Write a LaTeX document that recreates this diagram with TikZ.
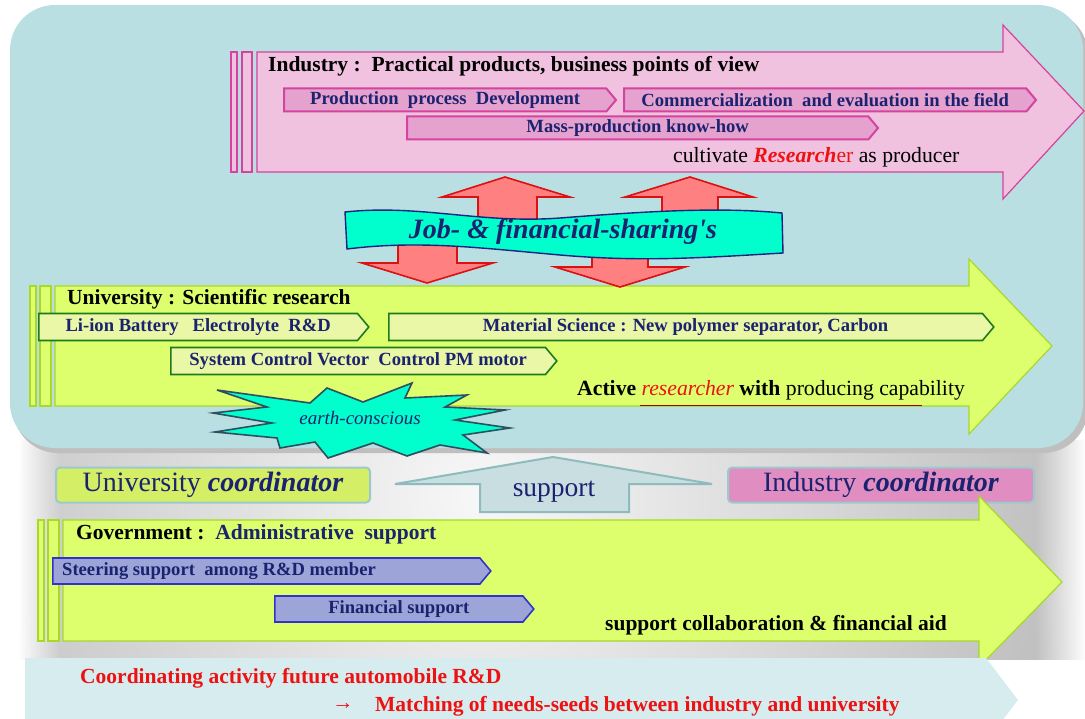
\documentclass[tikz,border=0pt]{standalone}
\usepackage{fontspec}
\setmainfont{Liberation Serif}
\usetikzlibrary{positioning,shapes.symbols,fadings}

\definecolor{topbg}{HTML}{B9DFE2}
\definecolor{pinkfill}{HTML}{F0C2E0}
\definecolor{pinkline}{HTML}{D4439F}
\definecolor{pinksub}{HTML}{E6A2CE}
\definecolor{navytext}{HTML}{1B2270}
\definecolor{yellowfill}{HTML}{DDFF6E}
\definecolor{yellowline}{HTML}{A8D82A}
\definecolor{unisubfill}{HTML}{E9F7A6}
\definecolor{unisubline}{HTML}{1D7A1D}
\definecolor{aqua}{HTML}{00FFCC}
\definecolor{bannerline}{HTML}{1A237E}
\definecolor{redfill}{HTML}{FF8080}
\definecolor{redline}{HTML}{DD1111}
\definecolor{burstline}{HTML}{2F4F5F}
\definecolor{unicoord}{HTML}{D4EE66}
\definecolor{indcoord}{HTML}{E08EC2}
\definecolor{coordline}{HTML}{9CC9CC}
\definecolor{supportfill}{HTML}{C8DEE0}
\definecolor{supportline}{HTML}{8DBBBE}
\definecolor{govsubfill}{HTML}{9DA5D8}
\definecolor{govsubline}{HTML}{3333CC}
\definecolor{bottomfill}{HTML}{D6ECEE}
\definecolor{redtext}{HTML}{EE1111}

\begin{document}
\begin{tikzpicture}[x=1pt,y=-1pt,
  style={line join=miter},
  subarrow/.style={signal, signal to=east, signal pointer angle=100, inner sep=0pt,
    font=\fontsize{18.6}{20}\selectfont\bfseries, text=navytext},
  indsub/.style={subarrow, draw=pinkline, line width=2pt, fill=pinksub, minimum height=23pt},
  unisub/.style={subarrow, draw=unisubline, line width=1.6pt, fill=unisubfill, minimum height=27pt},
  govsub/.style={subarrow, draw=govsubline, line width=1.6pt, fill=govsubfill, minimum height=26pt},
  coord/.style={draw=coordline, line width=2pt, rounded corners=4pt, minimum height=35pt,
    inner sep=0pt, font=\fontsize{28}{30}\selectfont, text=navytext},
  sharearrow/.style={fill=redfill, draw=redline, line width=1.6pt},
  heading/.style={anchor=west, inner sep=0pt, font=\fontsize{21.5}{24}\selectfont\bfseries},
  plaintext/.style={anchor=west, inner sep=0pt, font=\fontsize{21.7}{24}\selectfont},
  redline/.style={anchor=west, inner sep=0pt, font=\fontsize{21.5}{24}\selectfont\bfseries, text=redtext},
]
\useasboundingbox (0,0) rectangle (1085,719);

  % gray shadow band
  \begin{scope}
  \clip (20,440) rectangle (1085,659);
  \fill[inner color=gray!6, outer color=gray!60] (480,495) circle (720);
  \end{scope}
  \fill[white, path fading=east] (18,440) rectangle (60,660);
  \fill[white, path fading=west] (1035,440) rectangle (1086,660);

  % top panel
  \fill[gray!50, rounded corners=45pt] (13,10) rectangle (1088,453);
  \fill[topbg, rounded corners=45pt] (10,5) rectangle (1083,448);

  % Industry arrow
  \draw[pinkline, fill=pinkfill, line width=1.2pt] (257,52) -- (1003,52) -- (1003,25)
    -- (1084,111) -- (1003,199) -- (1003,172) -- (257,172) -- cycle;
  \draw[pinkline, fill=pinkfill, line width=1.2pt] (231,52) rectangle (237,172);
  \draw[pinkline, fill=pinkfill, line width=1.2pt] (242,52) rectangle (252,172);
  \node[heading] (indhead) at (268,66) {Industry :\ \ Practical products, business points of view};
  \node[indsub, anchor=west, minimum width=332pt] (prod) at (283,100) {Production\ \ process\ \ Development};
  \node[indsub, anchor=west, minimum width=412pt] (comm) at (623,100) {Commercialization\ \ and evaluation in the field};
  \node[indsub, anchor=west, minimum width=471pt] (mass) at (406,128) {Mass-production know-how};
  \node[plaintext] (cult) at (673,157)
    {cultivate {\color{redtext}\bfseries\itshape Research}{\color{redtext}er} as producer};

  % University arrow
  \draw[yellowline, fill=yellowfill, line width=1.2pt] (55,286) -- (969,286) -- (969,259)
    -- (1052,346) -- (969,434) -- (969,406) -- (55,406) -- cycle;
  \draw[yellowline, fill=yellowfill, line width=1.2pt] (30,286) rectangle (36,406);
  \draw[yellowline, fill=yellowfill, line width=1.2pt] (40,286) rectangle (51,406);
  \draw[red!60!black, line width=0.8pt] (640,405) -- (922,405);
  \node[heading] (unihead) at (67,299) {University : Scientific research};
  \node[unisub, anchor=west, minimum width=330pt] (liion) at (38,327) {Li-ion Battery\ \ \ Electrolyte\ \ R\&D};
  \node[unisub, anchor=west, minimum width=605pt] (matsci) at (388,327) {Material Science : New polymer separator, Carbon};
  \node[unisub, anchor=west, minimum width=386pt] (sysctl) at (170,361) {System Control Vector\ \ Control PM motor};
  \node[plaintext] (active) at (577,390)
    {\textbf{Active} {\color{redtext}\itshape researcher} \textbf{with} producing capability};

  % sharing arrows
  \draw[sharearrow] (478,230) -- (478,197) -- (442,197) -- (505,177) -- (570,197) -- (537,197) -- (537,230) -- cycle;
  \draw[sharearrow] (662,230) -- (662,197) -- (625,197) -- (690,177) -- (753,197) -- (718,197) -- (718,230) -- cycle;
  \draw[sharearrow] (398,235) -- (398,263) -- (362,263) -- (427,283) -- (493,263) -- (457,263) -- (457,235) -- cycle;
  \draw[sharearrow] (592,235) -- (592,267) -- (555,267) -- (620,287) -- (685,267) -- (648,267) -- (648,235) -- cycle;

  % banner
  \draw[bannerline, fill=aqua, line width=1.4pt] (345,212) .. controls (420,204) and (480,224) .. (560,218)
    .. controls (650,211) and (720,207) .. (782,213) -- (783,253)
    .. controls (700,258) and (640,262) .. (560,255) .. controls (480,248) and (420,240) .. (347,249) -- cycle;
  \node[font=\fontsize{28}{30}\selectfont\bfseries\itshape, text=navytext] (share) at (563,232)
    {Job- \& financial-sharing\textquotesingle s};

  % starburst
  \draw[burstline, fill=aqua, line width=1.6pt] (217,390) -- (310,403) -- (327,388) -- (363,402) -- (412,383)
    -- (405,398) -- (467,395) -- (445,407) -- (505,410) -- (455,420) -- (510,428) -- (463,435)
    -- (487,453) -- (440,445) -- (407,456) -- (373,443) -- (328,458) -- (315,442) -- (280,448)
    -- (277,438) -- (215,432) -- (272,423) -- (213,413) -- (267,407) -- cycle;
  \node[font=\fontsize{19}{21}\selectfont\itshape, text=navytext] (earth) at (360,418) {earth-conscious};

  % coordinators and support
  \node[coord, fill=unicoord, minimum width=314pt] (unicoord) at (213,485) {University \textbf{\itshape coordinator}};
  \node[coord, fill=indcoord, minimum width=306pt] (indcoord) at (881,485) {Industry \textbf{\itshape coordinator}};
  \draw[supportline, fill=supportfill, line width=2pt] (395,484) -- (553,457) -- (712,484) -- (629,484)
    -- (629,512) -- (480,512) -- (480,484) -- cycle;
  \node[font=\fontsize{27.5}{30}\selectfont, text=navytext] (support) at (554,492) {support};

  % Government arrow
  \draw[yellowline, fill=yellowfill, line width=1.2pt] (63,520) -- (979,520) -- (979,496)
    -- (1062,582) -- (979,667) -- (979,641) -- (63,641) -- cycle;
  \draw[yellowline, fill=yellowfill, line width=1.2pt] (38,520) rectangle (44,641);
  \draw[yellowline, fill=yellowfill, line width=1.2pt] (48,520) rectangle (59,641);
  \node[heading] (govhead) at (76,534) {Government :\ \ {\color{navytext}Administrative\ \ support}};
  \node[govsub, anchor=west, minimum width=438pt] (steer) at (52,571) {};
  \node[anchor=west, inner sep=0pt, font=\fontsize{18.6}{20}\selectfont\bfseries, text=navytext] (steertxt)
    at ([xshift=10pt]steer.west) {Steering support\ \ among R\&D member};
  \node[govsub, anchor=west, minimum width=259pt] (fin) at (274,609) {Financial support};
  \node[heading] (aid) at (605,625) {support collaboration \& financial aid};

  % bottom arrow
  \fill[bottomfill] (25,658) -- (986,658) -- (1018,700) -- (986,742) -- (25,742) -- cycle;
  \node[redline] (coordact) at (80,678) {Coordinating activity future automobile R\&D};
  \node[redline] (arrowsym) at (332,706) {\textmd{→}};
  \node[redline] (matching) at (375,706) {Matching of needs-seeds between industry and university};
\end{tikzpicture}
\end{document}
